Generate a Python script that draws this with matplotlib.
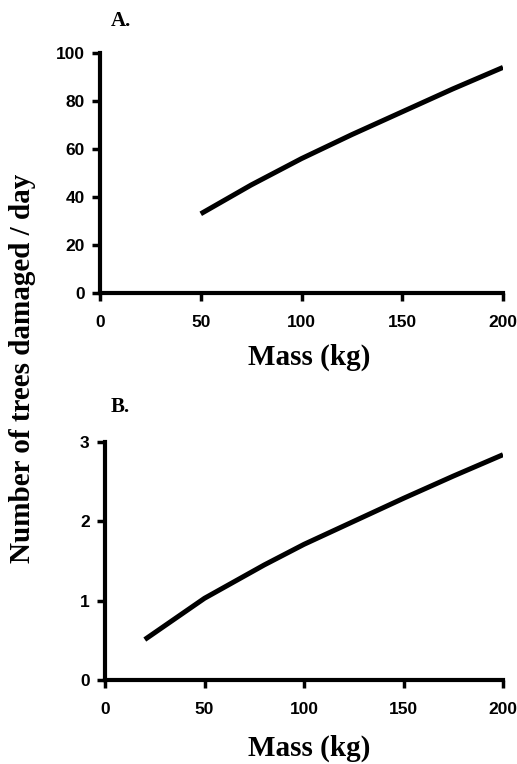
import matplotlib
matplotlib.use("Agg")
import matplotlib.pyplot as plt

# values
mass_a = [50, 75, 100, 125, 150, 175, 200]
trees_a = [33, 45, 56, 66, 75.5, 85, 94]

mass_b = [20, 50, 80, 100, 125, 150, 175, 200]
trees_b = [0.51, 1.03, 1.45, 1.71, 2.0, 2.29, 2.57, 2.84]

xticks = [0, 50, 100, 150, 200]
yticks_a = [0, 20, 40, 60, 80, 100]
yticks_b = [0, 1, 2, 3]

W, H = 517, 764
fig = plt.figure(figsize=(W / 100, H / 100), dpi=100)

serif = "Liberation Serif"
sans = "Liberation Sans"


def box(l, t, r, b):
    return [l / W, 1 - b / H, (r - l) / W, (b - t) / H]


def style(ax, xs, ys, yt):
    ax.plot(xs, ys, color="black", lw=3.6, solid_capstyle="butt")
    ax.set_xlim(0, 200)
    ax.set_ylim(yt[0], yt[-1])
    ax.set_xticks(xticks)
    ax.set_yticks(yt)
    for s in ["top", "right"]:
        ax.spines[s].set_visible(False)
    for s in ["left", "bottom"]:
        ax.spines[s].set_linewidth(3)
    ax.spines["bottom"].set_capstyle("projecting")
    ax.tick_params(axis="both", direction="out", length=6, width=2.5)
    ax.tick_params(axis="x", pad=10)
    ax.tick_params(axis="y", pad=5)
    for lab in ax.get_xticklabels() + ax.get_yticklabels():
        lab.set_fontfamily(sans)
        lab.set_fontweight("bold")
        lab.set_fontsize(12.5)


ax1 = fig.add_axes(box(100, 53, 503, 293))
style(ax1, mass_a, trees_a, yticks_a)
ax2 = fig.add_axes(box(105, 442, 503, 680))
style(ax2, mass_b, trees_b, yticks_b)

fig.text(111 / W, 1 - 21 / H, "A.", family=serif, weight="bold", fontsize=15, va="center")
fig.text(111 / W, 1 - 407 / H, "B.", family=serif, weight="bold", fontsize=15, va="center")

fig.text(309 / W, 1 - 357 / H, "Mass (kg)", family=serif, weight="bold", fontsize=21,
         ha="center", va="center")
fig.text(309 / W, 1 - 748 / H, "Mass (kg)", family=serif, weight="bold", fontsize=21,
         ha="center", va="center")
fig.text(23 / W, 1 - 368 / H, "Number of trees damaged / day", family=serif, weight="bold",
         fontsize=21, rotation=90, ha="center", va="center")

fig.savefig("out.png", dpi=100)
